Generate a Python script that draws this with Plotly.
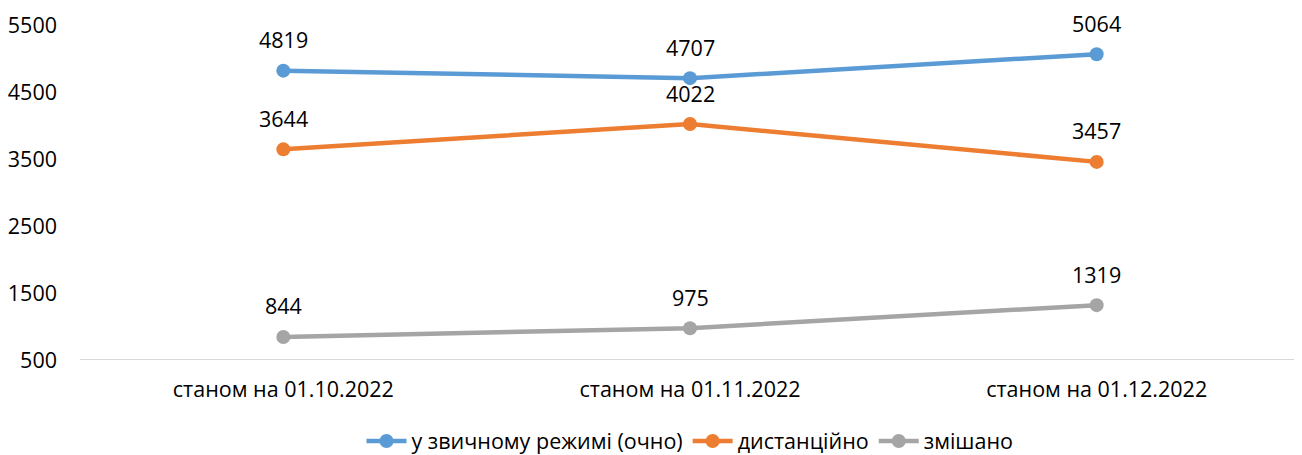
import plotly.graph_objects as go

categories = ["станом на 01.10.2022", "станом на 01.11.2022", "станом на 01.12.2022"]
series_names = ["у звичному режимі (очно)", "дистанційно", "змішано"]
in_person = [4819, 4707, 5064]
remote = [3644, 4022, 3457]
mixed = [844, 975, 1319]
y_ticks = [500, 1500, 2500, 3500, 4500, 5500]

colors = ["#5B9BD5", "#ED7D31", "#A5A5A5"]
font = "Open Sans, Noto Sans, sans-serif"
fsize = 21.5

fig = go.Figure()
annotations = []
for name, values, color in zip(series_names, [in_person, remote, mixed], colors):
    fig.add_trace(
        go.Scatter(
            x=categories,
            y=values,
            name=name,
            mode="lines+markers",
            line=dict(color=color, width=4.5),
            marker=dict(color=color, size=14),
        )
    )
    for cat, val in zip(categories, values):
        annotations.append(
            dict(
                x=cat, y=val, text=str(val), showarrow=False,
                yshift=31, font=dict(size=fsize, color="#000000", family=font),
            )
        )

# page body has an 8px margin, so the figure is a bit smaller than the window
fig.update_layout(
    width=1294,
    height=447,
    paper_bgcolor="white",
    plot_bgcolor="white",
    margin=dict(l=72, r=2, t=17, b=95, autoexpand=False),
    font=dict(family=font, size=fsize, color="#000000"),
    annotations=annotations,
    showlegend=True,
    legend=dict(
        orientation="h",
        x=0.5, xanchor="center",
        y=-0.242, yanchor="middle",
        font=dict(size=fsize, color="#000000"),
        itemwidth=40,
        traceorder="normal",
    ),
    xaxis=dict(
        range=[-0.5, 2.5], showgrid=False, zeroline=False, showline=False,
        ticks="", ticklabelstandoff=14,
    ),
    yaxis=dict(
        range=[500, 5500], tickvals=y_ticks, showgrid=False,
        zeroline=False, showline=False, ticks="", ticklabelstandoff=22,
    ),
    shapes=[
        dict(type="line", xref="paper", yref="y", x0=0, x1=1, y0=500, y1=500,
             line=dict(color="#D9D9D9", width=2), layer="below"),
    ],
)

fig.write_html("out.html")
